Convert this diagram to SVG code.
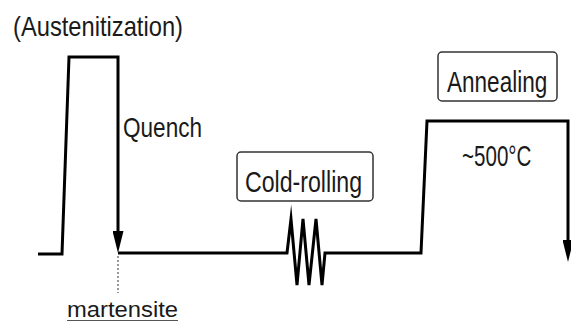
<svg xmlns="http://www.w3.org/2000/svg" width="571" height="322" viewBox="0 0 571 322">
<style>
.lbl{font-family:"Liberation Sans",Arial,sans-serif;fill:#1a1a1a;}
.line{fill:none;stroke:#000;stroke-width:3;stroke-linejoin:miter;stroke-miterlimit:10;}
.box{fill:#fff;stroke:#333;stroke-width:1.5;}
</style>
<defs>
<marker id="arr" viewBox="0 0 22 11" refX="14" refY="5.5" markerWidth="22" markerHeight="11" markerUnits="userSpaceOnUse" orient="auto">
<path d="M0,0 L22,5.5 L0,11 z" fill="#000"/>
</marker>
</defs>
<rect width="571" height="322" fill="#fff"/>
<g id="connectors">
<path class="line" d="M38,254 H62 L69,57 H118 V245" marker-end="url(#arr)"/>
<path class="line" d="M118,253 H287 L291,219 L297,285 L303,219 L309,285 L316,219 L322,285 L325,253 H421 L427,121 H568 V254" marker-end="url(#arr)"/>
<line x1="118" y1="256" x2="118" y2="293" stroke="#333" stroke-width="1" stroke-dasharray="2,2"/>
</g>
<g id="austenitization">
<text class="lbl" x="13" y="36" font-size="28" textLength="170" lengthAdjust="spacingAndGlyphs">(Austenitization)</text>
</g>
<g id="quench">
<text class="lbl" x="123" y="137" font-size="28" textLength="79" lengthAdjust="spacingAndGlyphs">Quench</text>
</g>
<g id="cold-rolling">
<rect class="box" x="237" y="152" width="136" height="49" rx="4"/>
<text class="lbl" x="245" y="192" font-size="30" textLength="117" lengthAdjust="spacingAndGlyphs">Cold-rolling</text>
</g>
<g id="annealing">
<rect class="box" x="438" y="52" width="119" height="49" rx="4"/>
<text class="lbl" transform="translate(447 91.5) scale(0.752 1)" x="0" y="0" font-size="30">Annealing</text>
</g>
<g id="temperature">
<text class="lbl" transform="translate(462 166) scale(0.71 1)" x="0" y="0" font-size="29">~500°C</text>
</g>
<g id="martensite">
<text class="lbl" x="67" y="317" font-size="22" textLength="111" lengthAdjust="spacingAndGlyphs">martensite</text>
<line x1="67" y1="320.5" x2="178" y2="320.5" stroke="#555" stroke-width="1"/>
</g>
</svg>
